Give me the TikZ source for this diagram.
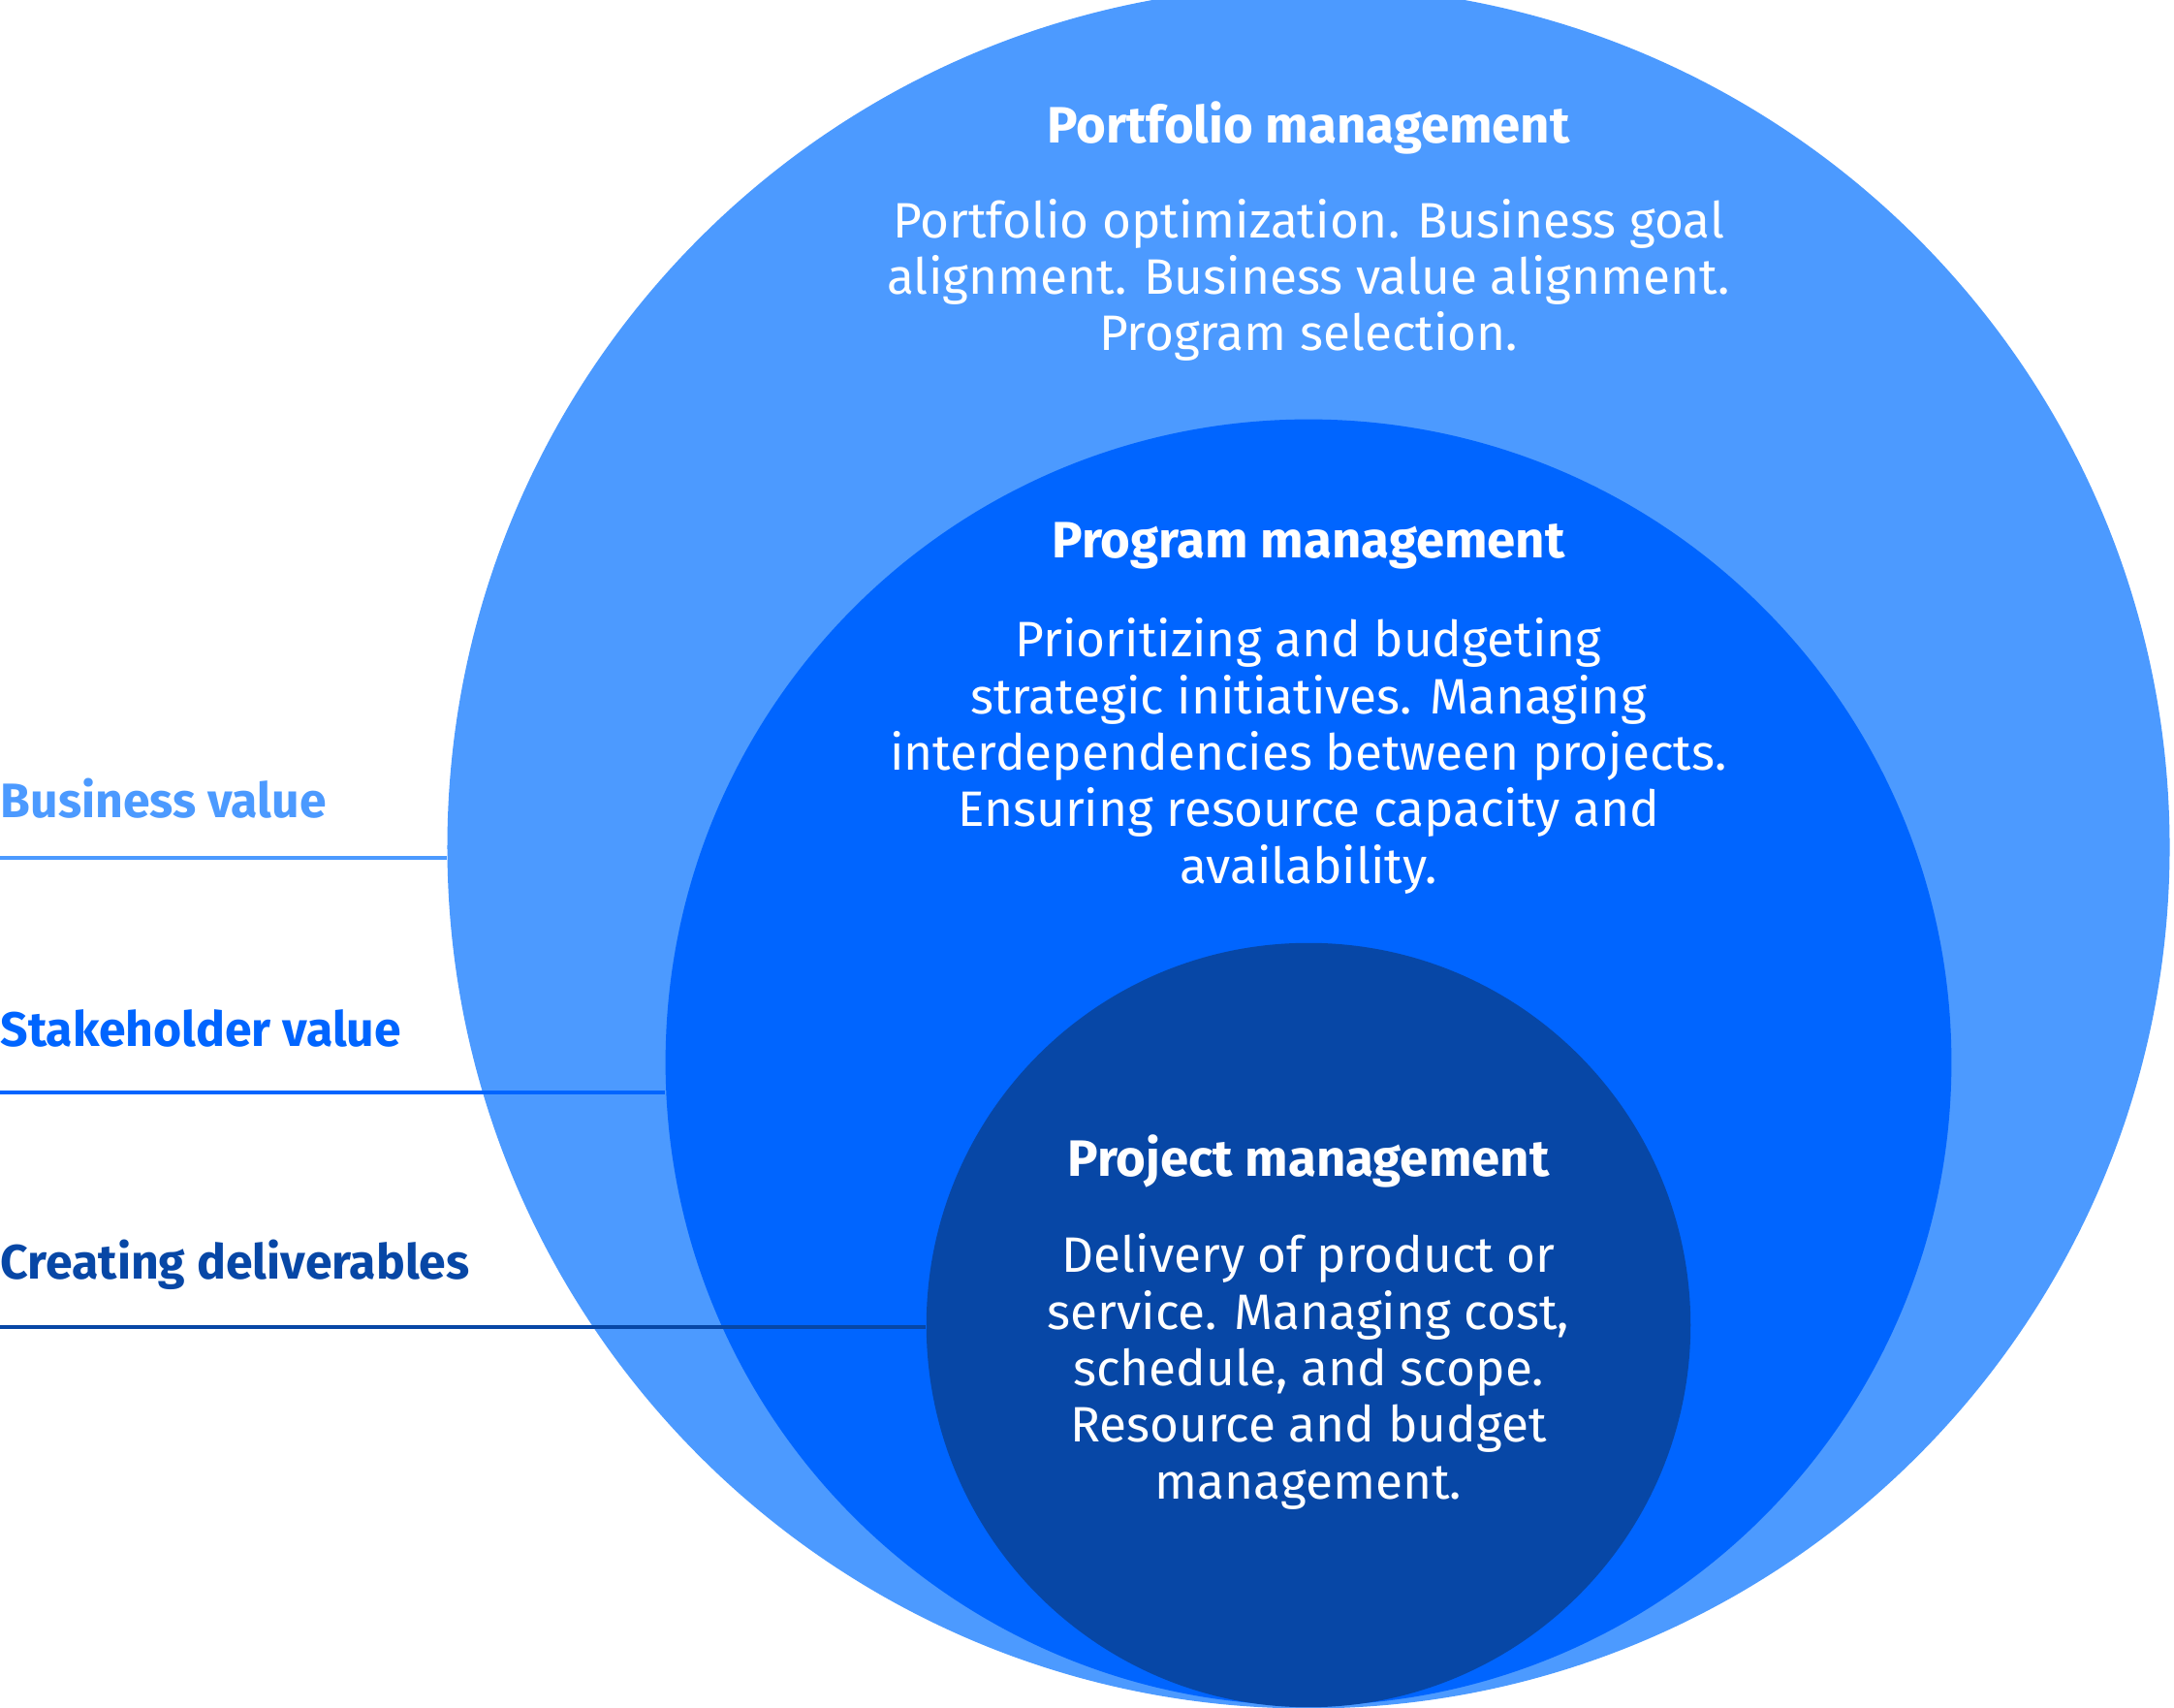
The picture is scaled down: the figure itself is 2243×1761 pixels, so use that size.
\documentclass[tikz,border=0pt]{standalone}
\usepackage{fontspec}
\setmainfont{Fira Sans}
\usetikzlibrary{positioning}

\definecolor{portfolioblue}{HTML}{4C9AFF}
\definecolor{programblue}{HTML}{0065FF}
\definecolor{projectblue}{HTML}{0747A6}

\tikzset{
  ring/.style={circle, inner sep=0pt, draw=none},
  title/.style={text=white, font=\fontsize{15}{18}\selectfont\bfseries},
  body/.style={text=white, align=center, font=\fontsize{14.6}{16.6}\selectfont},
  label/.style={anchor=west, inner sep=0pt, font=\fontsize{14.2}{17}\selectfont\bfseries},
  levelline/.style={line width=1pt},
}

\begin{document}
\begin{tikzpicture}[x=0.01cm, y=0.01cm]
  \path[use as bounding box, clip] (0,0) rectangle (2243,1761);

  % Kreise (aussen nach innen)
  \node[ring, fill=portfolioblue, minimum size=17.76cm] (portfolio) at (1350, 887) {};
  \node[ring, fill=programblue,   minimum size=13.26cm] (program)   at (1350, 665) {};
  \node[ring, fill=projectblue,   minimum size=7.88cm]  (project)   at (1350, 394) {};

  % Texte im Portfolio-Kreis
  \node[title] (pftitle) at (1350, 1629) {Portfolio management};
  \node[body]  (pfbody)  at (1350, 1472) {Portfolio optimization. Business goal\\
    alignment. Business value alignment.\\ Program selection.};

  % Texte im Programm-Kreis
  \node[title] (pgtitle) at (1350, 1198) {Program management};
  \node[body]  (pgbody)  at (1350, 981) {Prioritizing and budgeting\\
    strategic initiatives. Managing\\ interdependencies between projects.\\
    Ensuring resource capacity and\\ availability.};

  % Texte im Projekt-Kreis
  \node[title] (pjtitle) at (1350, 563) {Project management};
  \node[body]  (pjbody)  at (1350, 346) {Delivery of product or\\
    service. Managing cost,\\ schedule, and scope.\\
    Resource and budget\\ management.};

  % Beschriftungen links
  \node[label, text=portfolioblue] (bv) at (0, 937) {Business value};
  \node[label, text=programblue]   (sv) at (0, 700) {Stakeholder value};
  \node[label, text=projectblue]   (cd) at (0, 456) {Creating deliverables};

  \coordinate (bvstart) at (0, 876);
  \coordinate (svstart) at (0, 634);
  \coordinate (cdstart) at (0, 392);

  % Linien bis zum jeweiligen Kreis
  \draw[levelline, portfolioblue] (bvstart) -- (bvstart -| portfolio.west);
  \draw[levelline, programblue]   (svstart) -- (svstart -| program.west);
  \draw[levelline, projectblue]   (cdstart) -- (cdstart -| project.west);

\end{tikzpicture}
\end{document}
